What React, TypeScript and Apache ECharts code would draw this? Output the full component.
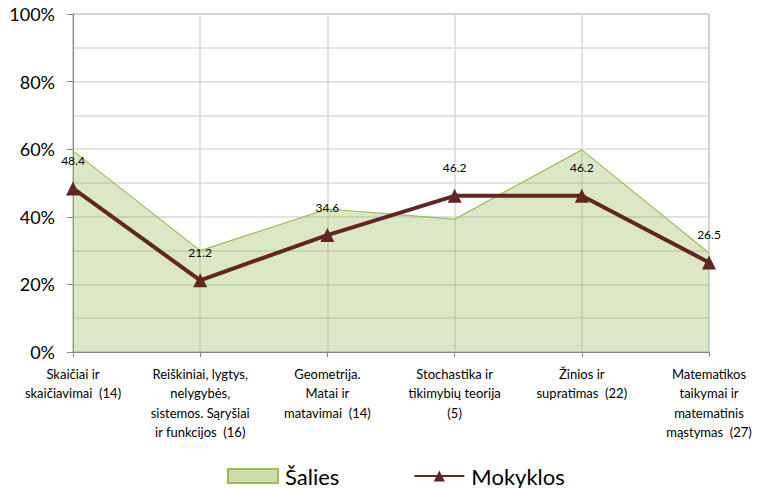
import React, { useEffect, useRef } from "react";
import * as echarts from "echarts";

const categories = [
  "Skaičiai ir\nskaičiavimai  (14)",
  "Reiškiniai, lygtys,\nnelygybės,\nsistemos. Sąryšiai\nir funkcijos  (16)",
  "Geometrija.\nMatai ir\nmatavimai  (14)",
  "Stochastika ir\ntikimybių teorija\n(5)",
  "Žinios ir\nsupratimas  (22)",
  "Matematikos\ntaikymai ir\nmatematinis\nmąstymas  (27)",
];
const saliesValues = [59.5, 30.0, 42.3, 39.3, 59.8, 29.3];
const mokyklosValues = [48.4, 21.2, 34.6, 46.2, 46.2, 26.5];
const seriesNames = ["Šalies", "Mokyklos"];

const FONT = "Lato";

export default function App() {
  const ref = useRef<HTMLDivElement>(null);
  useEffect(() => {
    if (!ref.current) return;
    const chart = echarts.init(ref.current, undefined, { renderer: "svg" });
    chart.setOption({
      animation: false,
      backgroundColor: "#ffffff",
      textStyle: { fontFamily: FONT },
      grid: {
        left: 73,
        right: 49,
        top: 14,
        bottom: 136,
        show: true,
        borderColor: "#868686",
        borderWidth: 1,
        containLabel: false,
      },
      legend: {
        left: 222,
        top: 460,
        itemGap: 74,
        itemWidth: 50,
        itemHeight: 14,
        textStyle: { fontFamily: FONT, fontSize: 22, color: "#000", padding: [0, 0, 0, 2] },
        data: [
          { name: seriesNames[0], icon: "rect" },
          { name: seriesNames[1] },
        ],
      },
      xAxis: {
        type: "category",
        data: categories,
        boundaryGap: false,
        axisLine: { lineStyle: { color: "#868686", width: 1 } },
        axisTick: { show: true, length: 5, lineStyle: { color: "#868686" } },
        axisLabel: {
          fontFamily: FONT,
          fontSize: 13,
          color: "#000",
          lineHeight: 19.5,
          margin: 12,
          interval: 0,
        },
        splitLine: { show: true, lineStyle: { color: "#d9d9d9", width: 1.5 } },
      },
      yAxis: {
        type: "value",
        min: 0,
        max: 100,
        interval: 20,
        axisLine: { show: true, lineStyle: { color: "#868686", width: 1 } },
        axisTick: { show: true, length: 6, lineStyle: { color: "#868686" } },
        axisLabel: {
          fontFamily: FONT,
          fontSize: 18,
          color: "#000",
          margin: 18,
          formatter: "{value}%",
        },
        splitLine: { show: true, lineStyle: { color: "#d9d9d9", width: 1.5 } },
        minorTick: { show: false, splitNumber: 2 },
        minorSplitLine: { show: true, lineStyle: { color: "#d9d9d9", width: 1.5 } },
      },
      series: [
        {
          name: seriesNames[0],
          type: "line",
          data: saliesValues,
          symbol: "none",
          lineStyle: { color: "#9bbb59", width: 1.2 },
          itemStyle: { color: "#cddcab", borderColor: "#9bbb59", borderWidth: 1.5 },
          areaStyle: { color: "rgba(155,187,89,0.5)" },
          z: 2,
        },
        {
          name: seriesNames[1],
          type: "line",
          data: mokyklosValues,
          symbol: "triangle",
          symbolSize: 14,
          lineStyle: { color: "#632523", width: 4 },
          itemStyle: { color: "#632523" },
          label: {
            show: true,
            position: "top",
            distance: 15,
            fontFamily: FONT,
            fontSize: 12,
            color: "#000",
          },
          z: 3,
        },
      ],
    });
    return () => chart.dispose();
  }, []);
  return (
    <div
      ref={ref}
      style={{ position: "fixed", left: 0, top: 0, width: 758, height: 488 }}
    />
  );
}
